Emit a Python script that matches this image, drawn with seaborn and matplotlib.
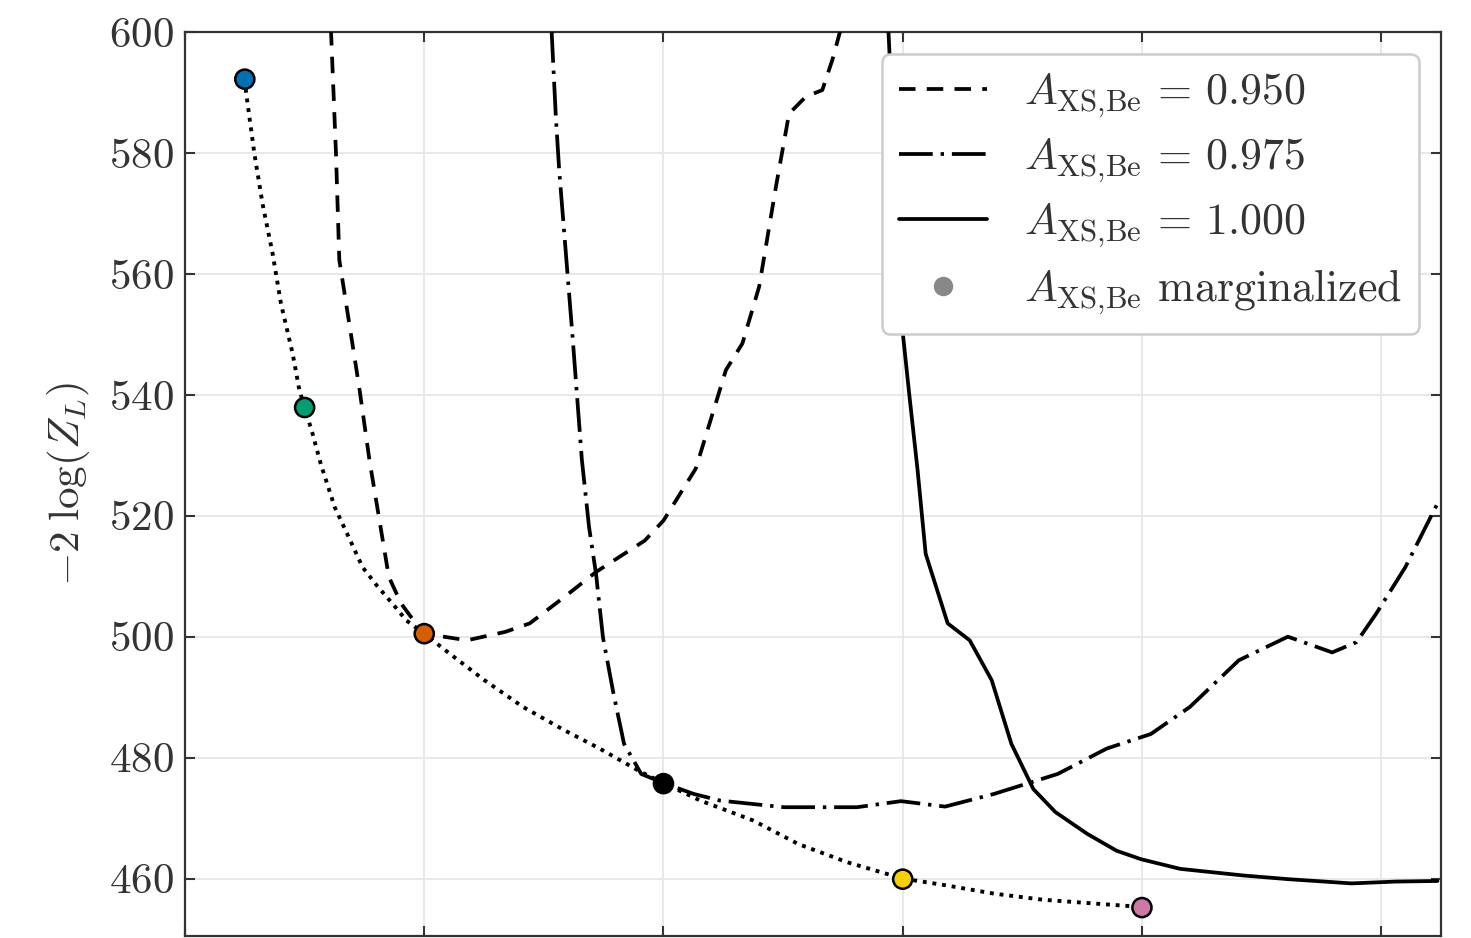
import numpy as np
import pandas as pd
import matplotlib
matplotlib.use("Agg")
import matplotlib.pyplot as plt
from matplotlib.lines import Line2D
import seaborn as sns

# ---------------- data ----------------
x_095 = [0.610, 0.631, 0.645, 0.728, 0.771, 0.852, 0.903, 0.946, 1.0, 1.179, 1.339,
         1.441, 1.587, 1.718, 1.922, 2.0, 2.135, 2.261, 2.330, 2.400, 2.470, 2.525,
         2.595, 2.664, 2.706, 2.741]
y_095 = [600.5, 580.0, 562.3, 541.3, 529.2, 509.9, 505.5, 503.2, 500.5, 499.4, 500.8,
         502.2, 506.6, 510.7, 515.9, 519.2, 527.8, 544.1, 548.5, 557.9, 574.4, 586.5,
         589.3, 590.4, 595.4, 600.5]

x_0975 = [1.532, 1.550, 1.564, 1.592, 1.620, 1.659, 1.689, 1.718, 1.747, 1.791, 1.835,
          1.907, 2.0, 2.126, 2.236, 2.502, 2.809, 2.993, 3.177, 3.382, 3.648, 3.853,
          4.037, 4.201, 4.405, 4.610, 4.795, 4.897, 4.979, 5.101, 5.235]
y_0975 = [600.5, 586.0, 577.2, 563.4, 549.6, 529.2, 518.1, 510.4, 499.9, 490.6, 482.3,
          477.3, 475.8, 474.0, 472.9, 471.8, 471.8, 472.8, 471.9, 474.0, 477.3, 481.5,
          483.9, 488.4, 496.1, 500.0, 497.4, 499.1, 503.8, 511.5, 522.0]

x_100 = [2.940, 2.999, 3.027, 3.062, 3.096, 3.188, 3.280, 3.372, 3.454, 3.546, 3.638,
         3.771, 3.894, 3.996, 4.160, 4.426, 4.611, 4.876, 5.061, 5.235]
y_100 = [600.5, 550.7, 540.2, 527.6, 513.7, 502.2, 499.4, 492.8, 482.3, 474.8, 471.0,
         467.4, 464.6, 463.2, 461.6, 460.5, 459.9, 459.2, 459.5, 459.6]

# dotted curve through the marginalized points
x_marg_curve = [0.25, 0.255, 0.290, 0.324, 0.366, 0.401, 0.450, 0.478, 0.499, 0.533, 0.568,
                0.626, 0.684, 0.742, 0.801, 0.873, 0.925, 1.0, 1.106, 1.252, 1.412,
                1.587, 1.733, 1.907, 2.0, 2.154, 2.375, 2.564, 2.768, 3.0, 3.178,
                3.382, 3.586, 3.791, 4.0]
y_marg_curve = [592.2, 590.1, 579.9, 571.6, 563.4, 555.1, 546.8, 540.8, 538.0, 533.6, 528.5,
                521.4, 516.5, 511.5, 508.5, 505.2, 502.7, 500.5, 497.2, 492.8, 488.4,
                484.5, 481.5, 477.6, 475.8, 472.9, 469.6, 465.7, 462.7, 460.0, 458.9,
                457.5, 456.5, 455.9, 455.3]

x_marg = [0.25, 0.5, 1.0, 2.0, 3.0, 4.0]
y_marg = [592.2, 537.9, 500.5, 475.7, 459.9, 455.2]
marg_colors = ["#0072B2", "#009E73", "#D55E00", "#000000", "#F6D000", "#CC79A7"]

labels = [r"$A_{\mathrm{XS{,}Be}}\,=\,0.950$", r"$A_{\mathrm{XS{,}Be}}\,=\,0.975$",
          r"$A_{\mathrm{XS{,}Be}}\,=\,1.000$", r"$A_{\mathrm{XS{,}Be}}$ marginalized"]
y_ticks = [460, 480, 500, 520, 540, 560, 580, 600]
x_ticks = [0, 1, 2, 3, 4, 5]

# ---------------- style ----------------
sns.set_theme(style="ticks")
plt.rcParams.update({
    "font.family": ["serif"],
    "font.serif": ["cmr10"],
    "mathtext.fontset": "cm",
    "axes.formatter.use_mathtext": True,
    "axes.unicode_minus": False,
})

fig = plt.figure(figsize=(14.71, 9.38), dpi=100)
ax = fig.add_axes([185 / 1471, 2 / 938, (1441 - 185) / 1471, (936 - 32) / 938])

LW = 2.7
dash_095 = (0, (4.4, 3.0))
dash_0975 = (0, (9.0, 2.1, 0.9, 2.1))
dot_m = (0, (1.0, 1.5))

sns.lineplot(x=x_095, y=y_095, ax=ax, color="black", linewidth=LW, linestyle=dash_095,
             sort=False, estimator=None, zorder=3)
sns.lineplot(x=x_0975, y=y_0975, ax=ax, color="black", linewidth=LW, linestyle=dash_0975,
             sort=False, estimator=None, zorder=3)
sns.lineplot(x=x_100, y=y_100, ax=ax, color="black", linewidth=LW, linestyle="-",
             sort=False, estimator=None, zorder=3)
sns.lineplot(x=x_marg_curve, y=y_marg_curve, ax=ax, color="black", linewidth=2.8,
             linestyle=dot_m, sort=False, estimator=None, zorder=3)

df_m = pd.DataFrame({"x": x_marg, "y": y_marg, "c": [str(i) for i in range(len(x_marg))]})
sns.scatterplot(data=df_m, x="x", y="y", hue="c", palette=marg_colors, s=190,
                edgecolor="black", linewidth=1.8, ax=ax, legend=False, zorder=5)

ax.set_xlim(0, 5.25)
ax.set_ylim(450.5, 600)
ax.set_yticks(y_ticks)
ax.set_xticks(x_ticks)
ax.set_xticklabels([])
ax.set_xlabel("")
ax.grid(True, color="#e6e6e6", lw=1.3, zorder=0)
ax.set_axisbelow(True)

for s in ax.spines.values():
    s.set_color("#333333")
    s.set_linewidth(1.6)
ax.tick_params(direction="in", length=7, width=1.5, color="#333333",
               top=True, right=True, labelsize=31, labelcolor="#333333", pad=8)

ax.set_ylabel(r"$-2\;\log(Z_L)$", fontsize=31, color="#333333", labelpad=12)

handles = [
    Line2D([], [], color="black", lw=LW, linestyle=dash_095),
    Line2D([], [], color="black", lw=LW, linestyle=dash_0975),
    Line2D([], [], color="black", lw=LW, linestyle="-"),
    Line2D([], [], color="#888888", marker="o", linestyle="none", markersize=14,
           markeredgewidth=0),
]
leg = ax.legend(handles, labels, loc="upper right", fontsize=31.5, frameon=True,
                fancybox=True, framealpha=1, edgecolor="#cccccc",
                handlelength=2.0, handletextpad=0.85, labelspacing=0.38,
                borderpad=0.4)
leg.get_frame().set_linewidth(1.8)
for t in leg.get_texts():
    t.set_color("#333333")

fig.savefig("out.png", dpi=100)
